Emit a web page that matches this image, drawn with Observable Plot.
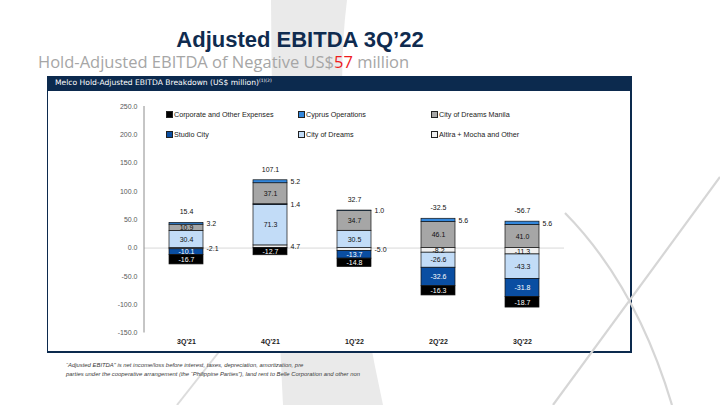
<!DOCTYPE html>
<html><head><meta charset="utf-8">
<script src="https://cdn.jsdelivr.net/npm/d3@7"></script>
<script src="https://cdn.jsdelivr.net/npm/@observablehq/plot@0.6"></script>
<style>
html,body{margin:0;padding:0;background:#fff;}
body{width:720px;height:405px;position:relative;overflow:hidden;font-family:"Liberation Sans",Arial,sans-serif;}
.abs{position:absolute;white-space:nowrap;}
#title{left:0;width:600px;top:29px;text-align:center;font-weight:bold;font-size:22px;line-height:22px;color:#0f2b4f;}
#subtitle{left:38px;top:53px;font-family:"Open Sans",sans-serif;font-size:16.5px;line-height:18px;color:#a6a6a6;}
#subtitle span{color:#ee1c1c;}
#box{left:47px;top:76px;width:585px;height:277px;box-sizing:border-box;background:#fff;border-left:1.5px solid #0c2a4e;border-right:2.5px solid #0c2a4e;border-bottom:2.5px solid #0c2a4e;}
#header{left:47px;top:76px;width:585px;height:14.5px;background:#0c2a4e;color:#fff;font-family:"DejaVu Sans",sans-serif;font-size:7.6px;line-height:14.5px;box-sizing:border-box;padding-left:8px;}
#header sup{font-size:4.5px;vertical-align:3px;line-height:0;}
#chart{left:47px;top:90px;}
.leg{position:absolute;font-size:7.2px;line-height:8px;color:#222;white-space:nowrap;}
.leg i{display:inline-block;width:4.5px;height:4.5px;border:0.7px solid #222;margin-right:1.5px;vertical-align:-0.2px;}
#foot{left:66px;top:360.5px;font-size:5.9px;line-height:9px;font-style:italic;color:#3a3a3a;}
</style></head>
<body>
<svg class="abs" style="left:0;top:0" width="720" height="405">
  <path d="M271,0 L347,0 Q328,150 383,405 L283,405 Q272,200 271,0 Z" fill="#eaeaea"/>
  <path d="M177,405 L222,348" stroke="#dcdcdc" stroke-width="2" fill="none"/>
</svg>
<div id="box" class="abs"></div>
<svg class="abs" style="left:0;top:0" width="720" height="405">
  <path d="M565,213 Q636,285 672,405" stroke="#d6d6d6" stroke-width="2.2" fill="none"/>
  <path d="M720,177 L553,405" stroke="#d6d6d6" stroke-width="2.2" fill="none"/>
</svg>
<div id="header" class="abs">Melco Hold-Adjusted EBITDA Breakdown (US$ million)<sup>(1)(2)</sup></div>
<div id="title" class="abs">Adjusted EBITDA 3Q’22</div>
<div id="subtitle" class="abs">Hold-Adjusted EBITDA of Negative US$<span>57</span> million</div>
<div id="chart" class="abs"></div>
<div id="legend"></div>
<div id="foot" class="abs">“Adjusted EBITDA” is net income/loss before interest, taxes, depreciation, amortization, pre<br>parties under the cooperative arrangement (the “Philippine Parties”), land rent to Belle Corporation and other non</div>
<script>
// ---- data ----
const quarters = ["3Q'21","4Q'21","1Q'22","2Q'22","3Q'22"];
const corporate = [-16.7,-12.7,-14.8,-16.3,-18.7];
const cyprus = [3.2,5.2,1.0,5.6,5.6];
const codManila = [10.9,37.1,34.7,46.1,41.0];
const studioCity = [-10.1,1.4,-13.7,-32.6,-31.8];
const cityOfDreams = [30.4,71.3,30.5,-26.6,-43.3];
const altira = [-2.1,4.7,-5.0,-8.2,-11.3];
const totals = ["15.4","107.1","32.7","-32.5","-56.7"];
const yTicks = [-150,-100,-50,0,50,100,150,200,250];
const legendNames = ["Corporate and Other Expenses","Cyprus Operations","City of Dreams Manila","Studio City","City of Dreams","Altira + Mocha and Other"];
const legendColors = ["#000000","#3387dc","#a6a6a6","#0a4ea2","#c2dcf7","#f0f0f0"];
const stackOrder = ["Altira + Mocha and Other","City of Dreams","Studio City","City of Dreams Manila","Cyprus Operations","Corporate and Other Expenses"];
const darkSeries = ["Studio City","Corporate and Other Expenses"];

const seriesValues = {
  "Corporate and Other Expenses": corporate,
  "Cyprus Operations": cyprus,
  "City of Dreams Manila": codManila,
  "Studio City": studioCity,
  "City of Dreams": cityOfDreams,
  "Altira + Mocha and Other": altira
};
const rows = [];
for (const s of stackOrder) quarters.forEach((q, i) => rows.push({q, series: s, value: seriesValues[s][i]}));
const topRows = quarters.map((q, i) => ({q, label: totals[i], top: d3.sum(stackOrder, s => Math.max(0, seriesValues[s][i]))}));

const fmt = v => v.toFixed(1);
const isInside = d => Math.abs(d.value) >= 6;
const font = "Liberation Sans, Arial, sans-serif";

const yLine = (index, scales, values, dimensions) => {
  const x = dimensions.marginLeft;
  const l = d3.create("svg:line")
    .attr("x1", x).attr("x2", x)
    .attr("y1", scales.y(d3.max(yTicks))).attr("y2", scales.y(d3.min(yTicks)))
    .attr("stroke", "#8c8c8c").attr("stroke-width", 1);
  return l.node();
};

const chart = Plot.plot({
  width: 585, height: 260,
  marginLeft: 97, marginRight: 68, marginTop: 16, marginBottom: 17.5,
  style: {fontFamily: font, background: "transparent", overflow: "visible"},
  x: {domain: quarters, paddingInner: 0.595, paddingOuter: 0.2975, label: null},
  y: {domain: [d3.min(yTicks), d3.max(yTicks)], label: null},
  color: {domain: legendNames, range: legendColors},
  marks: [
    Plot.ruleY([0], {stroke: "#d9d9d9", strokeWidth: 1}),
    yLine,
    Plot.axisY({ticks: yTicks, tickFormat: fmt, tickSize: 0, tickPadding: 7, fontSize: 7, fill: "#595959", label: null}),
    Plot.axisX({tickSize: 0, tickPadding: 6, fontSize: 7, fontWeight: "bold", fill: "#1a1a1a", label: null}),
    Plot.barY(rows, {x: "q", y: "value", z: "series", fill: "series", order: stackOrder, stroke: "#111", strokeWidth: 0.7}),
    Plot.text(rows, Plot.stackY({x: "q", y: "value", z: "series", order: stackOrder,
      text: d => isInside(d) && !darkSeries.includes(d.series) ? fmt(d.value) : "",
      fill: "#111", fontSize: 7})),
    Plot.text(rows, Plot.stackY({x: "q", y: "value", z: "series", order: stackOrder,
      text: d => isInside(d) && darkSeries.includes(d.series) ? fmt(d.value) : "",
      fill: "#fff", fontSize: 7})),
    Plot.text(rows, Plot.stackY({x: "q", y: "value", z: "series", order: stackOrder,
      text: d => !isInside(d) ? fmt(d.value) : "",
      fill: "#111", fontSize: 7, textAnchor: "start", dx: 20})),
    Plot.text(topRows, {x: "q", y: "top", text: "label", dy: -11, fill: "#111", fontSize: 7})
  ]
});
document.getElementById("chart").appendChild(chart);

// legend (HTML, placed in the chart's upper area)
const legCols = [166, 298, 431];
const legRows = [111, 131];
const legend = document.getElementById("legend");
legendNames.forEach((name, i) => {
  const el = document.createElement("div");
  el.className = "leg";
  el.style.left = legCols[i % 3] + "px";
  el.style.top = legRows[Math.floor(i / 3)] + "px";
  el.innerHTML = `<i style="background:${legendColors[i]}"></i>${name}`;
  legend.appendChild(el);
});
</script>
</body></html>
